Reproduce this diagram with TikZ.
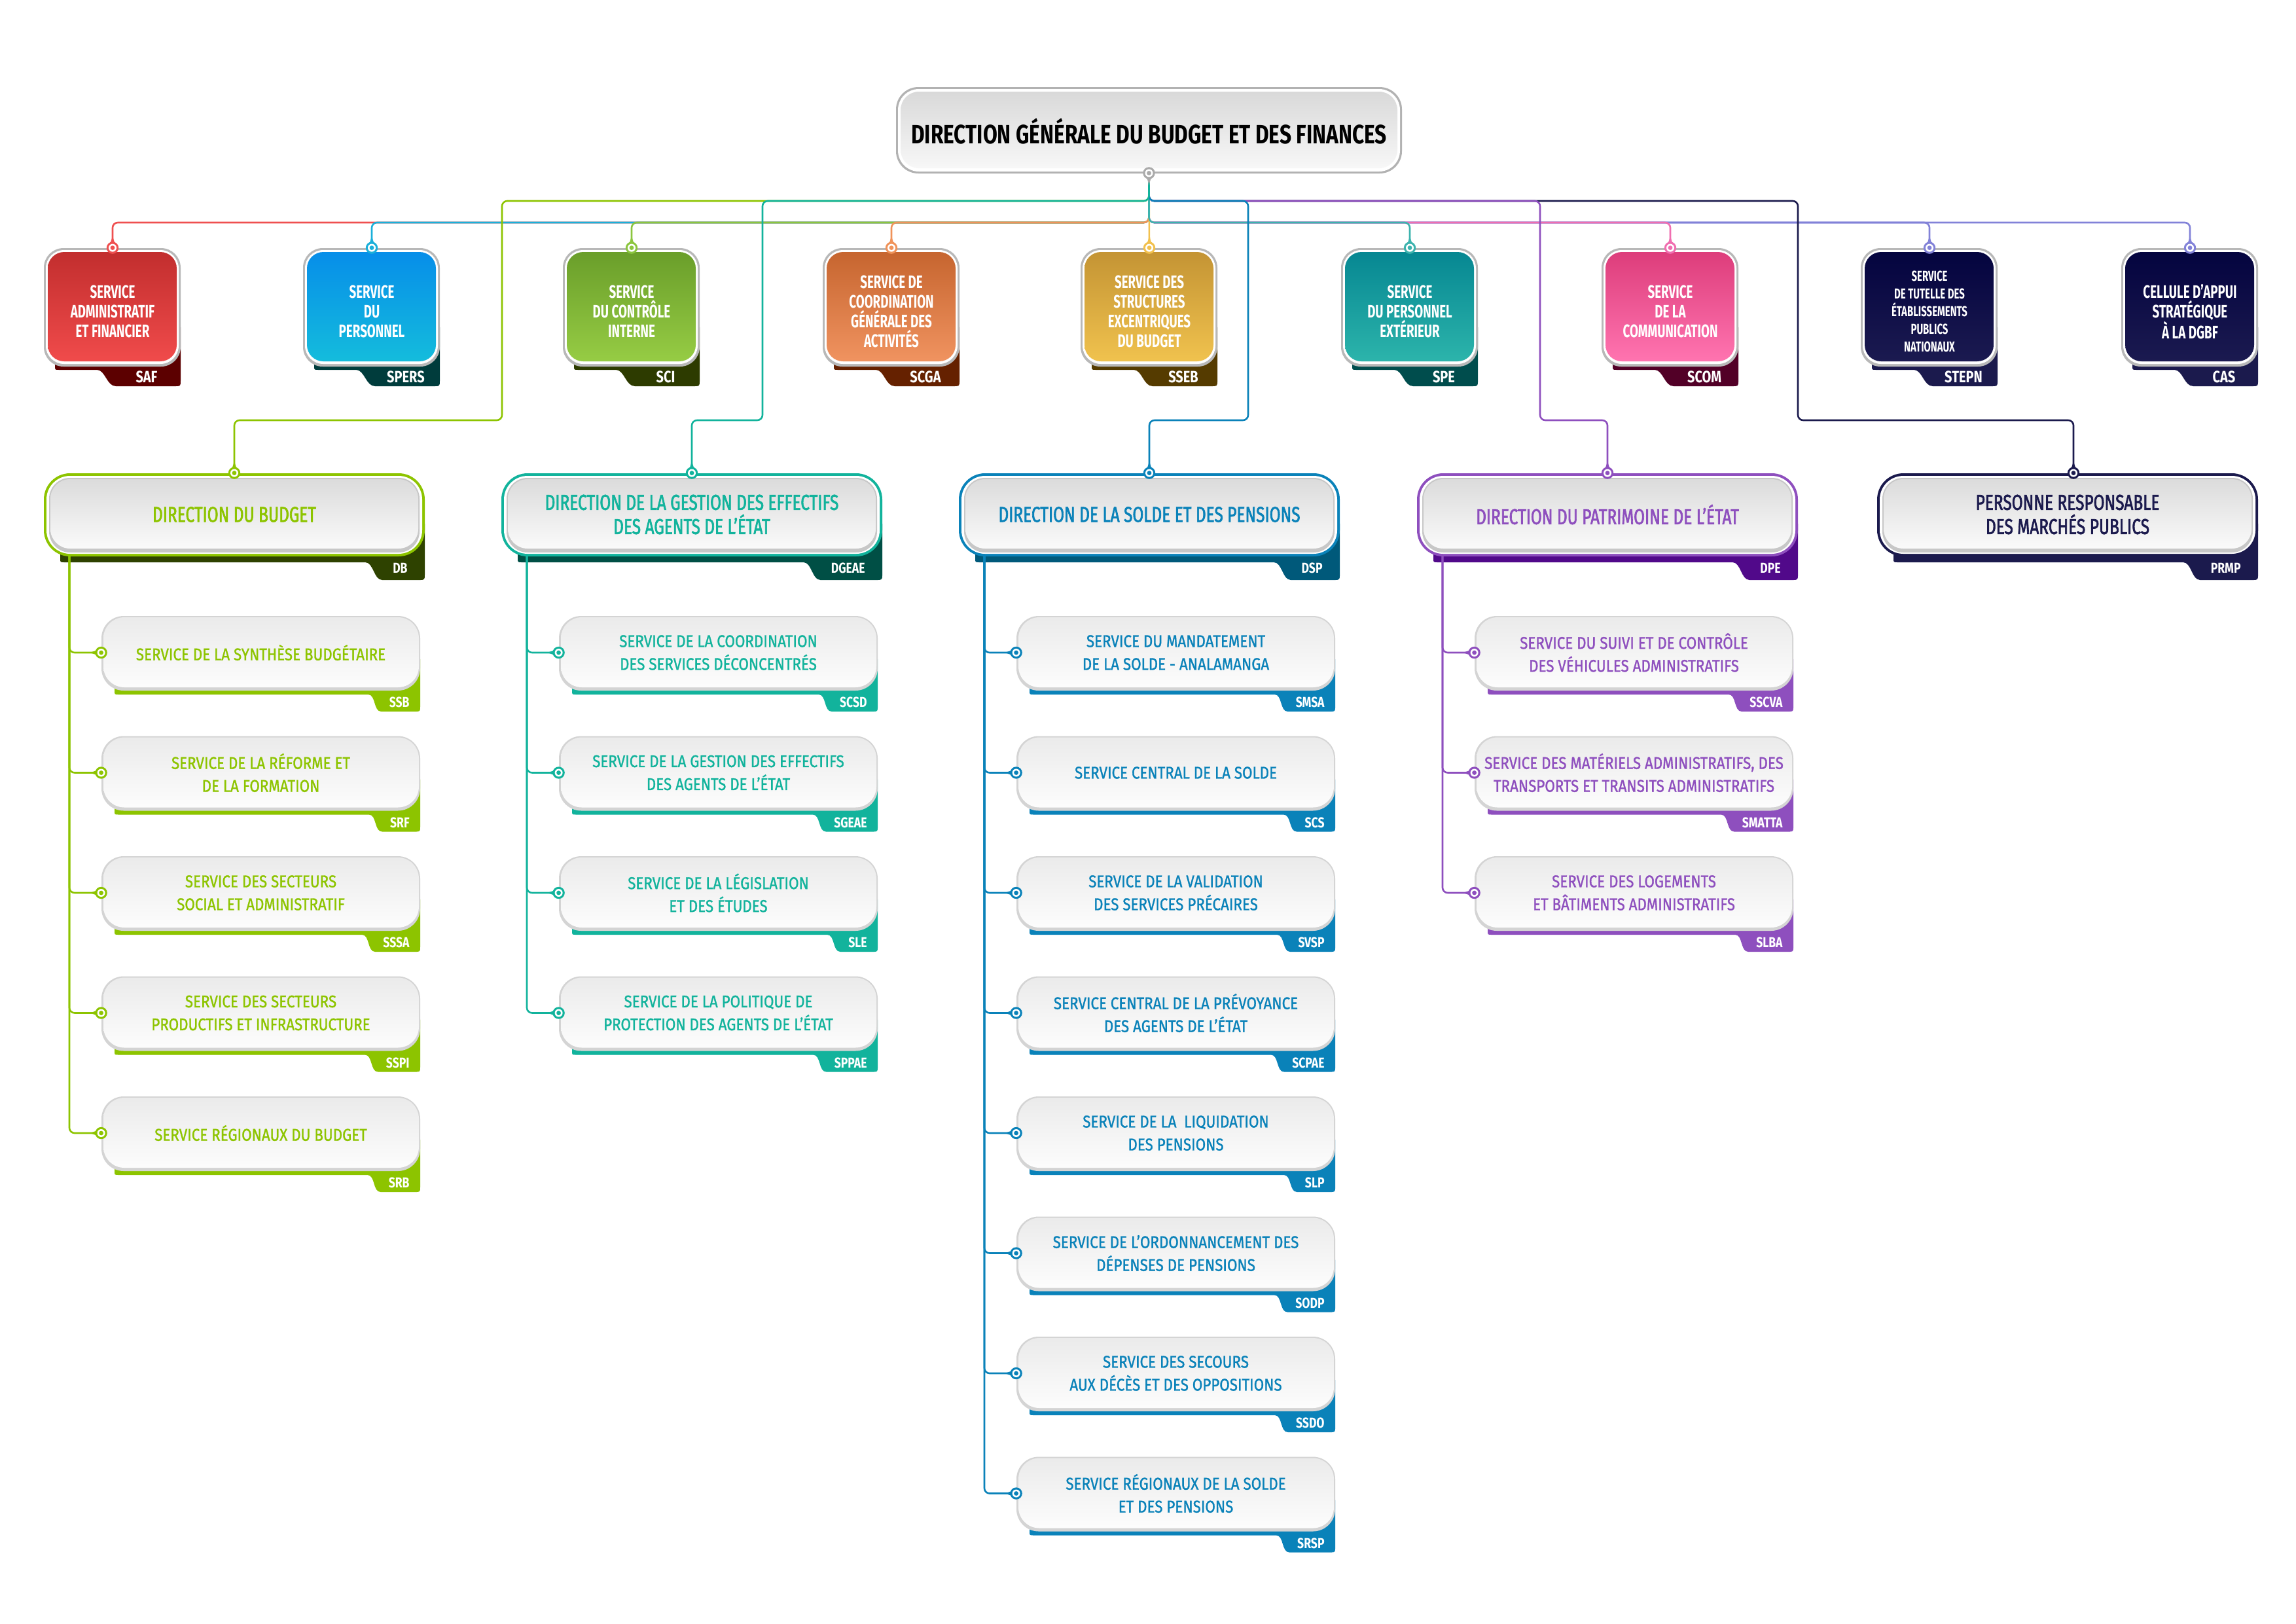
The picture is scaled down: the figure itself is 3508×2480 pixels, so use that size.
\documentclass[tikz,border=0pt]{standalone}
\usepackage{fontspec}
\usetikzlibrary{calc}
\newfontfamily\fcT{Fira Sans}[FakeStretch=0.68]
\newfontfamily\fcL{Fira Sans}[FakeStretch=0.80]
\newfontfamily\fcG{Fira Sans}[FakeStretch=0.78]
\newfontfamily\fcD{Fira Sans}[FakeStretch=0.74,FakeBold=2]
\newfontfamily\fcS{Fira Sans}[FakeStretch=0.86,FakeBold=1.2]
% line colours of the top services
\definecolor{lSAF}{HTML}{EF5050}
\definecolor{lSPERS}{HTML}{1BB0DA}
\definecolor{lSCI}{HTML}{8CC63F}
\definecolor{lSCGA}{HTML}{F0935A}
\definecolor{lSSEB}{HTML}{F2C14E}
\definecolor{lSPE}{HTML}{3DB3AE}
\definecolor{lSCOM}{HTML}{F06EB0}
\definecolor{lSTEPN}{HTML}{8282D8}
% gradients
\definecolor{tSAF}{HTML}{C22E2E}\definecolor{bSAF}{HTML}{F04B4B}\definecolor{dSAF}{HTML}{5C0000}
\definecolor{tSPERS}{HTML}{078EE9}\definecolor{bSPERS}{HTML}{14BCDC}\definecolor{dSPERS}{HTML}{003C3C}
\definecolor{tSCI}{HTML}{6A9E2A}\definecolor{bSCI}{HTML}{96CC44}\definecolor{dSCI}{HTML}{2D3B00}
\definecolor{tSCGA}{HTML}{C6652F}\definecolor{bSCGA}{HTML}{F09360}\definecolor{dSCGA}{HTML}{652100}
\definecolor{tSSEB}{HTML}{C49434}\definecolor{bSSEB}{HTML}{F0C24E}\definecolor{dSSEB}{HTML}{553B00}
\definecolor{tSPE}{HTML}{068792}\definecolor{bSPE}{HTML}{2CB4AB}\definecolor{dSPE}{HTML}{004D4D}
\definecolor{tSCOM}{HTML}{DD3D7B}\definecolor{bSCOM}{HTML}{FF74B0}\definecolor{dSCOM}{HTML}{520027}
\definecolor{tSTEPN}{HTML}{04043F}\definecolor{bSTEPN}{HTML}{1B1A50}\definecolor{dSTEPN}{HTML}{1B1A4D}
% directions
\definecolor{cDB}{HTML}{8DC400}\definecolor{kDB}{HTML}{2E4200}
\definecolor{cDG}{HTML}{12B39C}\definecolor{kDG}{HTML}{004F45}
\definecolor{cDS}{HTML}{0A82B9}\definecolor{kDS}{HTML}{00597A}
\definecolor{cDP}{HTML}{8E4FBE}\definecolor{kDP}{HTML}{51098A}
\definecolor{cPR}{HTML}{1B1A4D}\definecolor{kPR}{HTML}{1B1A4D}
\definecolor{cTitle}{HTML}{AAAAAA}

\tikzset{
  conn/.style={line width=1.3pt, rounded corners=4pt},
  titletext/.style={font=\fcG\bfseries\fontsize{20.3}{22}\selectfont, text=black, align=center, inner sep=0pt},
  toptext/.style={font=\fcT\bfseries\fontsize{13.8}{15}\selectfont, text=white, align=center, inner sep=0pt, minimum width=104pt, minimum height=97pt},
  toptag/.style={font=\fcL\bfseries\fontsize{12.5}{12.5}\selectfont, text=white, inner sep=0pt},
  dirtext/.style={font=\fcD\fontsize{16.5}{18.5}\selectfont, align=center, inner sep=0pt, minimum width=291pt, minimum height=63pt},
  dirtag/.style={font=\fcL\bfseries\fontsize{11}{11}\selectfont, text=white, inner sep=0pt},
  subtext/.style={font=\fcS\fontsize{13}{17.5}\selectfont, align=center, inner sep=0pt, minimum width=243.5pt, minimum height=55.5pt},
  subtag/.style={font=\fcL\bfseries\fontsize{11}{11}\selectfont, text=white, inner sep=0pt},
}

% #1 name #2 cx #3 top colour #4 bottom colour #5 tag colour #6 text #7 abbr #8 extra options
\newcommand\TopSvc[8]{%
  \fill[#5] ({#2-88},500) -- ({#2-88},559) .. controls ({#2-88},565) .. ({#2-82},565) -- ({#2-24},565)
    .. controls ({#2-11},565) and ({#2-9},590) .. ({#2+5},590) -- ({#2+95},590)
    .. controls ({#2+104},590) .. ({#2+104},581) -- ({#2+104},500) -- cycle;
  \fill[black!28, rounded corners=15pt] ({#2-105},379) rectangle ({#2+104},560);
  \fill[white, rounded corners=14pt] ({#2-102},382) rectangle ({#2+101},556);
  \shade[top color=#3, bottom color=#4, rounded corners=12.5pt] ({#2-99},385) rectangle ({#2+98},552);
  \node[toptext,#8] (#1) at (#2,476) {#6};
  \node[toptag] at ({#2+52},576) {#7};
}
% #1 name #2 cx #3 colour #4 tag colour #5 text #6 abbr
\newcommand\DirBox[6]{%
  \node[dirtag, anchor=east] (#1-lbl) at ({#2+265},868) {\phantom{#6}};
  \fill[#4] ({#2-266},800) -- ({#2-266},853) .. controls ({#2-266},859) .. ({#2-260},859)
    -- ($(#1-lbl.west)+(-42,-9)$) .. controls ($(#1-lbl.west)+(-29,-9)$) and ($(#1-lbl.west)+(-29,18)$) .. ($(#1-lbl.west)+(-16,18)$)
    -- ({#2+282},886) .. controls ({#2+291},886) .. ({#2+291},877) -- ({#2+291},800) -- cycle;
  \fill[#3, rounded corners=20pt] ({#2-291},723) rectangle ({#2+291},850);
  \fill[white, rounded corners=18pt] ({#2-287},727) rectangle ({#2+287},846);
  \fill[black!22, rounded corners=16pt] ({#2-283},730) rectangle ({#2+283},844);
  \shade[top color=black!14, bottom color=black!2, rounded corners=15pt] ({#2-281},732) rectangle ({#2+281},838);
  \node[dirtext, text=#3] (#1) at (#2,786) {#5};
  \node[dirtag] at (#1-lbl) {#6};
}
% #1 name #2 left #3 cy #4 colour #5 text #6 abbr
\newcommand\SubBox[6]{%
  \node[subtag, anchor=east] (#1-lbl) at ({#2+471},{#3+76}) {\phantom{#6}};
  \fill[#4] ({#2+20},{#3+10}) -- ({#2+20},{#3+58}) .. controls ({#2+20},{#3+64}) .. ({#2+26},{#3+64})
    -- ($(#1-lbl.west)+(-32,-12)$) .. controls ($(#1-lbl.west)+(-20,-12)$) and ($(#1-lbl.west)+(-24,14)$) .. ($(#1-lbl.west)+(-12,14)$)
    -- ({#2+479},{#3+90}) .. controls ({#2+487},{#3+90}) .. ({#2+487},{#3+82}) -- ({#2+487},{#3+10}) -- cycle;
  \fill[black!17, rounded corners=17pt] (#2,{#3-56}) rectangle ({#2+487},{#3+58});
  \shade[top color=black!8, bottom color=black!1, rounded corners=16pt] ({#2+3},{#3-54}) rectangle ({#2+485},{#3+53});
  \node[subtext, text=#4] (#1) at ({#2+243.5},#3) {#5};
  \node[subtag] at (#1-lbl) {#6};
}
% #1 anchor #2 colour #3 rotation
\newcommand\Pin[3]{%
  \begin{scope}[shift={#1}, rotate=#3]
    \fill[#2] (-3.2pt,0pt) .. controls (-2pt,3pt) and (-0.6pt,6pt) .. (0pt,9.5pt)
      .. controls (0.6pt,6pt) and (2pt,3pt) .. (3.2pt,0pt) -- cycle;
    \fill[#2] (0,0) circle (4.6pt);
    \fill[white] (0,0) circle (3pt);
    \fill[#2] (0,0) circle (1.7pt);
  \end{scope}}

\begin{document}
\begin{tikzpicture}[x=0.5pt,y=-0.5pt]
\useasboundingbox (0,0) rectangle (3508,2480);
\fill[white] (0,0) rectangle (3508,2480);

% ---------- title ----------
\fill[black!30, rounded corners=17pt] (1369,133) rectangle (2142,265);
\fill[white, rounded corners=16pt] (1372,136) rectangle (2139,262);
\shade[top color=black!15, bottom color=black!3, rounded corners=14pt] (1376,140) rectangle (2135,257);
\node[titletext, minimum width=386.5pt, minimum height=64pt] (dg) at (1755.5,200) {DIRECTION GÉNÉRALE DU BUDGET ET DES FINANCES};

% ---------- top services ----------
\TopSvc{saf}{172}{tSAF}{bSAF}{dSAF}{SERVICE\\ADMINISTRATIF\\ET FINANCIER}{SAF}{}
\TopSvc{spers}{568}{tSPERS}{bSPERS}{dSPERS}{SERVICE\\DU\\PERSONNEL}{SPERS}{}
\TopSvc{sci}{965}{tSCI}{bSCI}{dSCI}{SERVICE\\DU CONTRÔLE\\INTERNE}{SCI}{}
\TopSvc{scga}{1362}{tSCGA}{bSCGA}{dSCGA}{SERVICE DE\\COORDINATION\\GÉNÉRALE DES\\ACTIVITÉS}{SCGA}{}
\TopSvc{sseb}{1756}{tSSEB}{bSSEB}{dSSEB}{SERVICE DES\\STRUCTURES\\EXCENTRIQUES\\DU BUDGET}{SSEB}{}
\TopSvc{spe}{2154}{tSPE}{bSPE}{dSPE}{SERVICE\\DU PERSONNEL\\EXTÉRIEUR}{SPE}{}
\TopSvc{scom}{2552}{tSCOM}{bSCOM}{dSCOM}{SERVICE\\DE LA\\COMMUNICATION}{SCOM}{}
\TopSvc{stepn}{2948}{tSTEPN}{bSTEPN}{dSTEPN}{SERVICE\\DE TUTELLE DES\\ÉTABLISSEMENTS\\PUBLICS\\NATIONAUX}{STEPN}{font=\fcT\bfseries\fontsize{11}{13.5}\selectfont}
\TopSvc{cas}{3346}{tSTEPN}{bSTEPN}{dSTEPN}{CELLULE D’APPUI\\STRATÉGIQUE\\À LA DGBF}{CAS}{}

% ---------- directions ----------
\DirBox{db}{358}{cDB}{kDB}{DIRECTION DU BUDGET}{DB}
\DirBox{dgeae}{1057}{cDG}{kDG}{DIRECTION DE LA GESTION DES EFFECTIFS\\DES AGENTS DE L’ÉTAT}{DGEAE}
\DirBox{dsp}{1756}{cDS}{kDS}{DIRECTION DE LA SOLDE ET DES PENSIONS}{DSP}
\DirBox{dpe}{2456}{cDP}{kDP}{DIRECTION DU PATRIMOINE DE L’ÉTAT}{DPE}
\DirBox{prmp}{3159}{cPR}{kPR}{PERSONNE RESPONSABLE\\DES MARCHÉS PUBLICS}{PRMP}

% ---------- services of DB ----------
\SubBox{ssb}{155}{997}{cDB}{SERVICE DE LA SYNTHÈSE BUDGÉTAIRE}{SSB}
\SubBox{srf}{155}{1180.5}{cDB}{SERVICE DE LA RÉFORME ET\\DE LA FORMATION}{SRF}
\SubBox{sssa}{155}{1364}{cDB}{SERVICE DES SECTEURS\\SOCIAL ET ADMINISTRATIF}{SSSA}
\SubBox{sspi}{155}{1547.5}{cDB}{SERVICE DES SECTEURS\\PRODUCTIFS ET INFRASTRUCTURE}{SSPI}
\SubBox{srb}{155}{1731}{cDB}{SERVICE RÉGIONAUX DU BUDGET}{SRB}
% ---------- services of DGEAE ----------
\SubBox{scsd}{854}{997}{cDG}{SERVICE DE LA COORDINATION\\DES SERVICES DÉCONCENTRÉS}{SCSD}
\SubBox{sgeae}{854}{1180.5}{cDG}{SERVICE DE LA GESTION DES EFFECTIFS\\DES AGENTS DE L’ÉTAT}{SGEAE}
\SubBox{sle}{854}{1364}{cDG}{SERVICE DE LA LÉGISLATION\\ET DES ÉTUDES}{SLE}
\SubBox{sppae}{854}{1547.5}{cDG}{SERVICE DE LA POLITIQUE DE\\PROTECTION DES AGENTS DE L’ÉTAT}{SPPAE}
% ---------- services of DSP ----------
\SubBox{smsa}{1553}{997}{cDS}{SERVICE DU MANDATEMENT\\DE LA SOLDE - ANALAMANGA}{SMSA}
\SubBox{scs}{1553}{1180.5}{cDS}{SERVICE CENTRAL DE LA SOLDE}{SCS}
\SubBox{svsp}{1553}{1364}{cDS}{SERVICE DE LA VALIDATION\\DES SERVICES PRÉCAIRES}{SVSP}
\SubBox{scpae}{1553}{1547.5}{cDS}{SERVICE CENTRAL DE LA PRÉVOYANCE\\DES AGENTS DE L’ÉTAT}{SCPAE}
\SubBox{slp}{1553}{1731}{cDS}{SERVICE DE LA~~LIQUIDATION\\DES PENSIONS}{SLP}
\SubBox{sodp}{1553}{1914.5}{cDS}{SERVICE DE L’ORDONNANCEMENT DES\\DÉPENSES DE PENSIONS}{SODP}
\SubBox{ssdo}{1553}{2098}{cDS}{SERVICE DES SECOURS\\AUX DÉCÈS ET DES OPPOSITIONS}{SSDO}
\SubBox{srsp}{1553}{2281.5}{cDS}{SERVICE RÉGIONAUX DE LA SOLDE\\ET DES PENSIONS}{SRSP}
% ---------- services of DPE ----------
\SubBox{sscva}{2253}{997}{cDP}{SERVICE DU SUIVI ET DE CONTRÔLE\\DES VÉHICULES ADMINISTRATIFS}{SSCVA}
\SubBox{smatta}{2253}{1180.5}{cDP}{SERVICE DES MATÉRIELS ADMINISTRATIFS, DES\\TRANSPORTS ET TRANSITS ADMINISTRATIFS}{SMATTA}
\SubBox{slba}{2253}{1364}{cDP}{SERVICE DES LOGEMENTS\\ET BÂTIMENTS ADMINISTRATIFS}{SLBA}

% ---------- connectors ----------
\coordinate (busS) at (0,340);
\coordinate (busD) at (0,307);
\coordinate (busL) at (0,642);
\coordinate (xDB) at (767,0);
\coordinate (xDG) at (1165,0);
\coordinate (xDS) at (1907,0);
\coordinate (xDP) at (2353,0);
\coordinate (xPR) at (2747,0);
\coordinate (tDB) at (106,850);
\coordinate (tDG) at (805,850);
\coordinate (tDS) at (1504,850);
\coordinate (tDP) at (2204,850);
\coordinate (prmpIn) at ($(prmp.north)+(9,0)$);

\draw[conn, lSAF] (dg.south) -- (dg.south |- busS) -- (saf.north |- busS) -- (saf.north);
\draw[conn, lSTEPN] (dg.south) -- (dg.south |- busS) -- (cas.north |- busS) -- (cas.north);
\draw[conn, lSPERS] (dg.south) -- (dg.south |- busS) -- (spers.north |- busS) -- (spers.north);
\draw[conn, lSTEPN] (dg.south) -- (dg.south |- busS) -- (stepn.north |- busS) -- (stepn.north);
\draw[conn, lSCI] (dg.south) -- (dg.south |- busS) -- (sci.north |- busS) -- (sci.north);
\draw[conn, lSCOM] (dg.south) -- (dg.south |- busS) -- (scom.north |- busS) -- (scom.north);
\draw[conn, lSCGA] (dg.south) -- (dg.south |- busS) -- (scga.north |- busS) -- (scga.north);
\draw[conn, lSSEB] (dg.south) -- (sseb.north);
\draw[conn, lSPE] (dg.south) -- (dg.south |- busS) -- (spe.north |- busS) -- (spe.north);

\draw[conn, cDB] (dg.south) -- (dg.south |- busD) -- (xDB |- busD) -- (xDB |- busL) -- (db.north |- busL) -- (db.north);
\draw[conn, cPR] (dg.south) -- (dg.south |- busD) -- (xPR |- busD) -- (xPR |- busL) -- (prmpIn |- busL) -- (prmpIn);
\draw[conn, cDP] (dg.south) -- (dg.south |- busD) -- (xDP |- busD) -- (xDP |- busL) -- (dpe.north |- busL) -- (dpe.north);
\draw[conn, cDS] (dg.south) -- (dg.south |- busD) -- (xDS |- busD) -- (xDS |- busL) -- (dsp.north |- busL) -- (dsp.north);
\draw[conn, cDG] (dg.south) -- (dg.south |- busD) -- (xDG |- busD) -- (xDG |- busL) -- (dgeae.north |- busL) -- (dgeae.north);

\foreach \s in {ssb,srf,sssa,sspi,srb} \draw[conn, cDB] (tDB) |- (\s.west);
\foreach \s in {scsd,sgeae,sle,sppae} \draw[conn, cDG] (tDG) |- (\s.west);
\foreach \s in {smsa,scs,svsp,scpae,slp,sodp,ssdo,srsp} \draw[conn, cDS] (tDS) |- (\s.west);
\foreach \s in {sscva,smatta,slba} \draw[conn, cDP] (tDP) |- (\s.west);

% ---------- pins ----------
\Pin{(dg.south)}{cTitle}{180}
\Pin{(saf.north)}{lSAF}{0}
\Pin{(spers.north)}{lSPERS}{0}
\Pin{(sci.north)}{lSCI}{0}
\Pin{(scga.north)}{lSCGA}{0}
\Pin{(sseb.north)}{lSSEB}{0}
\Pin{(spe.north)}{lSPE}{0}
\Pin{(scom.north)}{lSCOM}{0}
\Pin{(stepn.north)}{lSTEPN}{0}
\Pin{(cas.north)}{lSTEPN}{0}
\Pin{(db.north)}{cDB}{0}
\Pin{(dgeae.north)}{cDG}{0}
\Pin{(dsp.north)}{cDS}{0}
\Pin{(dpe.north)}{cDP}{0}
\Pin{(prmpIn)}{cPR}{0}
\foreach \s in {ssb,srf,sssa,sspi,srb} {\Pin{(\s.west)}{cDB}{90}}
\foreach \s in {scsd,sgeae,sle,sppae} {\Pin{(\s.west)}{cDG}{90}}
\foreach \s in {smsa,scs,svsp,scpae,slp,sodp,ssdo,srsp} {\Pin{(\s.west)}{cDS}{90}}
\foreach \s in {sscva,smatta,slba} {\Pin{(\s.west)}{cDP}{90}}
\end{tikzpicture}
\end{document}
